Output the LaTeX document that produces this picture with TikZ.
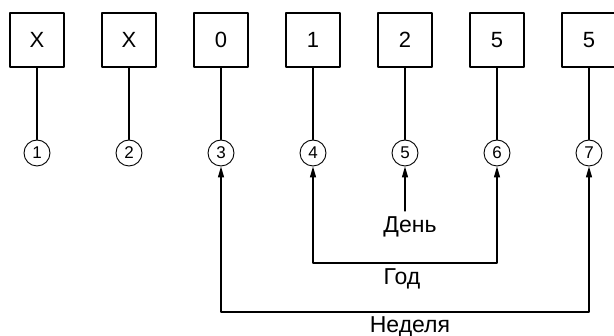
\documentclass[tikz,border=0pt]{standalone}
\usepackage{fontspec}
\setmainfont{Liberation Sans}
\usetikzlibrary{arrows.meta}

\tikzset{
  digitbox/.style={draw, line width=1.3pt, minimum size=54pt, inner sep=0pt, font=\fontsize{22}{26}\selectfont},
  posmark/.style={draw, circle, line width=0.9pt, minimum size=26pt, inner sep=0pt, font=\fontsize{17}{19}\selectfont},
  partlabel/.style={font=\fontsize{23}{26}\selectfont}
}

\begin{document}
\begin{tikzpicture}[x=1pt, y=-1pt, line cap=round, line join=round, line width=1.3pt, >={Triangle[length=11pt,width=6pt]}]
\useasboundingbox (0,0) rectangle (614,336);

% boxes and position numbers
\foreach \i/\d in {1/X,2/X,3/0,4/1,5/2,6/5,7/5} {
  \node[digitbox] (b\i) at ({37+92*(\i-1)},40) {\d};
  \node[posmark] (c\i) at ({37+92*(\i-1)},153) {\i};
  \draw (b\i) -- (c\i);
}

%---------------------------------------------------------------------------------------------------
\node[partlabel] (den) at (410,227) {День};
\coordinate (denstart) at (405,211);
\draw[->] (denstart) -- (c5);

\coordinate (godline) at (405,263);
\draw[<->] (c6) |- (godline) -| (c4);
\node[partlabel] (god) at (402,279) {Год};

\coordinate (nedline) at (405,312);
\draw[<->] (c7) |- (nedline) -| (c3);
\node[partlabel] (ned) at (410,327) {Неделя};

\end{tikzpicture}
\end{document}
